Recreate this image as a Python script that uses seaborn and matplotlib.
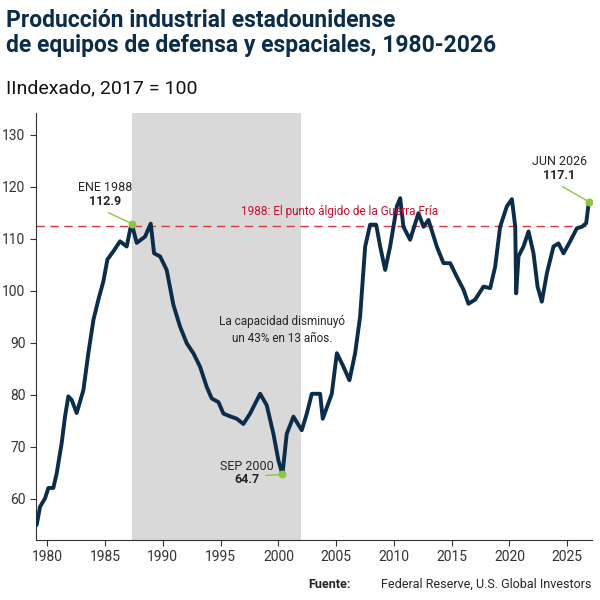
import matplotlib
matplotlib.use("Agg")
import matplotlib.pyplot as plt
import pandas as pd
import seaborn as sns

# Values
years = [
    1979.08, 1979.37, 1979.8, 1980.09, 1980.52, 1980.81, 1981.24, 1981.53, 1981.82, 1982.11,
    1982.54, 1983.12, 1983.55, 1983.99, 1984.42, 1984.85, 1985.2, 1985.72, 1986.29, 1986.87,
    1987.16, 1987.3, 1987.74, 1988.46, 1988.95, 1989.24, 1989.76, 1990.33, 1990.91, 1991.49,
    1992.07, 1992.64, 1993.22, 1993.8, 1994.23, 1994.81, 1995.24, 1995.67, 1996.4, 1996.97,
    1997.55, 1998.42, 1998.99, 1999.57, 2000.0, 2000.35, 2000.72, 2001.3, 2002.02, 2002.46,
    2002.89, 2003.61, 2003.84, 2004.62, 2005.06, 2005.63, 2006.15, 2006.64, 2007.07, 2007.51,
    2007.94, 2008.46, 2008.81, 2009.24, 2009.67, 2010.25, 2010.54, 2010.82, 2011.4, 2012.12,
    2012.56, 2012.99, 2013.71, 2014.29, 2014.87, 2015.44, 2016.02, 2016.45, 2017.03, 2017.75,
    2018.33, 2018.76, 2019.19, 2019.77, 2020.21, 2020.5, 2020.58, 2020.78, 2021.21, 2021.65,
    2022.08, 2022.43, 2022.8, 2023.24, 2023.81, 2024.24, 2024.68, 2025.25, 2025.83, 2026.27,
    2026.64, 2026.87,
]
values = [
    55.0, 58.5, 60.1, 62.1, 62.1, 64.9, 70.7, 75.8, 79.7, 79.0,
    76.5, 80.9, 88.0, 94.4, 98.3, 101.8, 106.0, 107.6, 109.5, 108.5,
    111.7, 112.9, 109.2, 110.4, 112.9, 107.2, 106.6, 104.0, 97.3, 93.1,
    89.9, 88.0, 85.4, 81.5, 79.3, 78.6, 76.4, 76.0, 75.4, 74.4,
    76.4, 80.2, 78.0, 72.5, 67.4, 64.7, 72.5, 75.8, 73.2, 76.4,
    80.2, 80.2, 75.4, 80.2, 88.0, 85.4, 82.8, 88.0, 95.0, 108.5,
    112.7, 112.7, 108.5, 104.0, 108.5, 116.2, 117.8, 112.3, 109.8, 114.9,
    112.3, 113.6, 108.5, 105.3, 105.3, 102.7, 100.2, 97.5, 98.3, 100.8,
    100.5, 104.6, 112.3, 116.2, 117.6, 112.3, 99.5, 106.6, 108.5, 111.4,
    107.2, 100.8, 97.9, 103.4, 108.5, 109.1, 107.2, 109.5, 112.0, 112.3,
    113.0, 117.1,
]
x_ticks = [1980, 1985, 1990, 1995, 2000, 2005, 2010, 2015, 2020, 2025]
y_ticks = [60, 70, 80, 90, 100, 110, 120, 130]
shade_span = (1987.3, 2001.95)
cold_war_peak = 112.4
callouts = [
    # (x, y, label, value, text x, text y)
    (1987.3, 112.9, "ENE 1988", "112.9", 1985.0, 117.0),
    (2000.35, 64.7, "SEP 2000", "64.7", 1997.3, 63.5),
    (2026.87, 117.1, "JUN 2026", "117.1", 2024.3, 122.0),
]

sns.set_style("white")
plt.rcParams["font.family"] = ["Roboto", "DejaVu Sans"]

df = pd.DataFrame({"year": years, "value": values})

fig = plt.figure(figsize=(6, 6), dpi=100)
ax = fig.add_axes([0.06, 0.1, 0.927, 0.712])

ax.axvspan(*shade_span, color="#d9d9d9", zorder=0, lw=0)
ax.axhline(cold_war_peak, color="#d9393e", ls=(0, (6, 4)), lw=1, zorder=1)
sns.lineplot(data=df, x="year", y="value", ax=ax, color="#0b2d4a", lw=2.8, zorder=3)

ax.text(2005.3, cold_war_peak + 1.6, "1988: El punto álgido de la Guerra Fría",
        color="#c8102e", fontsize=8.5, ha="center", va="bottom")
ax.text(2000.3, 92.5, "La capacidad disminuyó\nun 43% en 13 años.",
        fontsize=8.5, ha="center", va="center", linespacing=1.4)

for px, py, lab, val, tx, ty in callouts:
    ax.scatter([px], [py], color="#8dc63f", s=22, zorder=4)
    ax.text(tx, ty + 1.5, lab, fontsize=9, ha="center", va="bottom")
    ax.text(tx, ty + 1.4, val, fontsize=9, ha="center", va="top", weight="bold")
    if lab.startswith("SEP"):
        ax.plot([tx + 1.6, px], [py - 0.2, py], color="#8dc63f", lw=1, zorder=4)
    else:
        ax.plot([tx + 0.3, px], [ty - 2.0, py], color="#8dc63f", lw=1, zorder=4)

ax.set_xlim(1979.02, 2027.16)
ax.set_ylim(52.1, 134.2)
ax.set_xticks(x_ticks)
ax.set_yticks(y_ticks)
ax.set_xlabel("")
ax.set_ylabel("")
for s in ["top", "right"]:
    ax.spines[s].set_visible(False)
for s in ["left", "bottom"]:
    ax.spines[s].set_color("#333333")
    ax.spines[s].set_linewidth(0.8)
ax.tick_params(axis="both", direction="out", length=4, width=0.8, color="#333333",
               labelsize=10, labelcolor="#333333", left=True, bottom=True)

fig.text(0.01, 0.985, "Producción industrial estadounidense\nde equipos de defensa y espaciales, 1980-2026",
         fontsize=16.5, weight="bold", color="#0b2d4a", va="top", ha="left", linespacing=1.1)
fig.text(0.01, 0.868, "IIndexado, 2017 = 100", fontsize=14, color="#111111", va="top", ha="left")
fig.text(0.985, 0.015, "Federal Reserve, U.S. Global Investors", fontsize=9, ha="right", va="bottom")
fig.text(0.585, 0.015, "Fuente:", fontsize=9, weight="bold", ha="right", va="bottom")

fig.savefig("out.png", dpi=100)
